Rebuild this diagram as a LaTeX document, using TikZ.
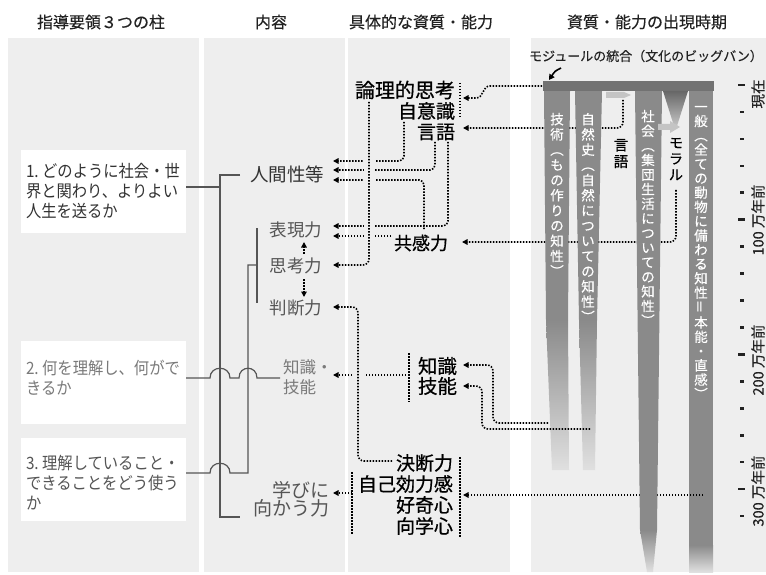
\documentclass[tikz,border=0pt]{standalone}
\usepackage{fontspec}
\setmainfont{Noto Sans CJK JP}
\newfontfamily\cnd{Noto Sans CJK JP}[FakeStretch=0.9]
\newfontfamily\jb{Noto Sans CJK JP}[FakeBold=0.7]
\newfontfamily\jm{Noto Sans CJK JP}[FakeBold=0.35]
\usetikzlibrary{arrows.meta}
\definecolor{panel}{HTML}{EEEEEE}
\definecolor{band}{HTML}{8A8A8A}
\definecolor{barc}{HTML}{727272}
\definecolor{fadec}{HTML}{E0E0E0}
\definecolor{lightg}{HTML}{C4C4C4}
\definecolor{linec}{HTML}{555555}
\definecolor{hdrc}{HTML}{222222}
\definecolor{tA}{HTML}{333333}
\definecolor{tB}{HTML}{7A7A7A}
\definecolor{tC}{HTML}{555555}
\begin{document}
\begin{tikzpicture}[x=1pt,y=-1pt,
  every node/.style={inner sep=0pt,outer sep=0pt},
  hdr/.style={font=\jm\fontsize{16}{18}\selectfont,text=hdrc},
  boxw/.style={fill=white,anchor=north west,minimum width=165pt,minimum height=83pt},
  btext/.style={font=\cnd\fontsize{17}{20}\selectfont,align=left,anchor=west},
  c2/.style={font=\fontsize{17.5}{20}\selectfont,text=tC},
  c3/.style={font=\jb\fontsize{19}{21}\selectfont,text=black,anchor=east},
  sol/.style={draw=linec,line width=1.2pt},
  dotl/.style={draw=black,line width=1.6pt,dash pattern=on 1.5pt off 1.5pt},
  tip/.style={-{Triangle[length=5.5pt,width=5.5pt]}},
  vt/.style={text=white,align=center,anchor=north,font=\jm\fontsize{13.5}{15.2}\selectfont},
  vk/.style={text=black,align=center,anchor=north,font=\jb\fontsize{14.5}{16.5}\selectfont},
  ax/.style={rotate=90,font=\jm\fontsize{14.5}{16}\selectfont,text=hdrc}
]
\useasboundingbox (0,0) rectangle (766,575);
\fill[white] (0,0) rectangle (766,575);
% panels
\fill[panel] (8,38) rectangle (199,572);
\fill[panel] (204,38) rectangle (345,572);
\fill[panel] (348,38) rectangle (510,572);
\fill[panel] (531,38) rectangle (766,572);
% headers
\node[hdr] (h1) at (101,22) {指導要領３つの柱};
\node[hdr] (h2) at (271,22) {内容};
\node[hdr] (h3) at (421,22) {具体的な資質・能力};
\node[hdr] (h4) at (647,22) {資質・能力の出現時期};
% column 1 boxes
\node[boxw] (b1) at (21,150) {};
\node[boxw] (b2) at (21,341) {};
\node[boxw] (b3) at (21,438) {};
\node[btext,text=tA] (b1t) at (26,191) {1.\ どのように社会・世\\界と関わり、よりよい\\人生を送るか};
\node[btext,text=tB] (b2t) at (26,378) {2.\ 何を理解し、何がで\\きるか};
\node[btext,text=tC] (b3t) at (26,483) {3.\ 理解していること・\\できることをどう使う\\か};
% column 2
\node[c2,text=tA,font=\fontsize{18.5}{20}\selectfont,anchor=west] (ning) at (250,174) {人間性等};
\node[c2] (hyo) at (296,230) {表現力};
\node[c2] (shi) at (296,266) {思考力};
\node[c2] (han) at (296,308) {判断力};
\node[c2,text=tB,font=\fontsize{16.5}{20}\selectfont,align=left,anchor=west] (chigi) at (283,377) {知識・\\技能};
\node[c2,font=\fontsize{19}{18}\selectfont,align=right,anchor=east] (mana) at (329,499) {学びに\\向かう力};
% column 3
\node[c3,font=\jb\fontsize{20}{21}\selectfont] (ronri) at (455,90) {論理的思考};
\node[c3] (jii) at (455,111) {自意識};
\node[c3] (gen3) at (455,132) {言語};
\node[c3,font=\jb\fontsize{18}{20}\selectfont] (kyo) at (448,243) {共感力};
\node[c3,font=\jb\fontsize{19.5}{20}\selectfont] (chi3) at (457,366) {知識};
\node[c3,font=\jb\fontsize{19.5}{20}\selectfont] (gi3) at (457,386) {技能};
\node[c3] (ket) at (453,463) {決断力};
\node[c3] (jiko) at (453,484) {自己効力感};
\node[c3] (koki) at (453,505) {好奇心};
\node[c3] (kogaku) at (453,526) {向学心};
% solid connectors
\draw[sol] (b1.east |- 0,187) -- (220,187);
\draw[sol] (ning.west) ++(-10,1) -- (220,175) -- (220,517) -- (240,517);
\draw[sol] (257,228) -- (257,303);
\draw[sol] (257,265) -- (248,265) -- (248,473) -- (230,473) .. controls (230,460) and (210,460) .. (210,473) -- (b3.east |- 0,473);
\draw[sol] (b2.east |- 0,378) -- (210,378) .. controls (210,365) and (230,365) .. (230,378) -- (239,378) .. controls (239,365) and (257,365) .. (257,378) -- (280,378);
% column 2 internal arrows
\draw[dotl,tip] (shi.north -| 304,0) ++(0,-4) -- (304,242);
\draw[dotl,tip] (304,279) -- (304,297);
% tip coordinates
\coordinate (tN1) at (333,161);
\coordinate (tN2) at (333,170);
\coordinate (tN3) at (333,180);
\coordinate (tH1) at (333,226);
\coordinate (tH2) at (333,236);
\coordinate (tS) at (333,265);
\coordinate (tJ) at (333,307);
\coordinate (tC) at (333,375);
\coordinate (tM) at (333,493);
% column 3 dotted connectors
\draw[dotl,tip,rounded corners=5pt] (404,122) -- (404,161) -- (tN1);
\draw[dotl,tip,rounded corners=5pt] (435,142) -- (435,170) -- (tN2);
\draw[dotl,tip,rounded corners=5pt] (424,229) -- (424,180) -- (tN3);
\draw[dotl,tip,rounded corners=5pt] (448,142) -- (448,226) -- (tH1);
\draw[dotl,tip] (kyo.west |- 0,236) ++(-3,0) -- (tH2);
\draw[dotl,tip] (409,375) -- (tC);
\draw[dotl,tip] (352,493) -- (tM);
% bridges
\fill[panel] (364,155) rectangle (375,186);
\fill[panel] (364,221) rectangle (375,241);
\fill[panel] (352,370) rectangle (364,380);
\draw[dotl,tip,rounded corners=6pt] (369,102) -- (369,265) -- (tS);
\draw[dotl,tip,rounded corners=6pt] (ket.west) ++(-4,-2) -- (358,461) -- (358,307) -- (tJ);
% brackets
\draw[dotl] (460,83) -- (460,117);
\draw[dotl] (409,353) -- (409,402);
\draw[dotl] (460,457) -- (460,537);
\draw[dotl] (352,472) -- (352,535);
% column 4: lines behind the bands
\coordinate (tR) at (463,98);
\coordinate (tG) at (463,128);
\coordinate (tK) at (462,242);
\coordinate (tCh) at (463,365);
\coordinate (tGi) at (463,386);
\coordinate (tJk) at (463,495);
\draw[dotl,tip] (548,86) -- (490,86) .. controls (482,86) and (484,98) .. (476,98) -- (tR);
\draw[dotl,tip,rounded corners=6pt] (623,100) -- (623,128) -- (tG);
\draw[dotl,tip,rounded corners=6pt] (676,190) -- (676,242) -- (tK);
% general band
\fill[band] (689,91) rectangle (713,545);
\shade[top color=band,bottom color=fadec] (689,545) rectangle (713,572);
\draw[dotl,tip] (703,495) -- (tJk);
% technology band
\fill[band] (544,91) -- (570,91) -- (568,320) -- (546,320) -- cycle;
\shade[top color=band,bottom color=fadec] (546,320) -- (568,320) -- (569,470) -- (552,470) -- cycle;
% natural history band
\fill[band] (575,91) -- (602,91) -- (597,320) -- (579,320) -- cycle;
\shade[top color=band,bottom color=fadec] (579,320) -- (597,320) -- (595,470) -- (583,470) -- cycle;
% social band
\fill[band] (635,91) -- (662,91) -- (657,530) -- (640,530) -- cycle;
\shade[top color=band,bottom color=fadec] (640,530) -- (657,530) -- (653,572) -- (647,572) -- cycle;
% top bar
\fill[barc] (543,81) rectangle (714,91);
% moral triangle
\shade[top color=barc!90!black,bottom color=lightg] (663,91) -- (688,91) -- (677,126) -- (674,126) -- cycle;
\fill[lightg] (658,124) -- (670,124) -- (670,121) -- (680,127) -- (670,133) -- (670,130) -- (658,130) -- cycle;
\fill[lightg] (606,92) -- (624,92) -- (631,95) -- (624,98) -- (606,98) -- cycle;
% lines drawn over the fading bands
\draw[dotl,tip,rounded corners=6pt] (548,423) -- (493,423) -- (493,365) -- (tCh);
\draw[dotl,tip,rounded corners=6pt] (590,429) -- (482,429) -- (482,386) -- (tGi);
% module label
\node[font=\jm\fontsize{13}{15}\selectfont,text=hdrc] (mod) at (646,56) {モジュールの統合（文化のビッグバン）};
\draw[line width=1.6pt,-{Triangle[length=5.5pt,width=6pt]}] (561,68) .. controls (555,71) .. (549,80);
% band texts
\node[vt] (v1) at (557,113) {技\\術\\︵\\も\\の\\作\\り\\の\\知\\性\\︶};
\node[vt] (v2) at (588,113) {自\\然\\史\\︵\\自\\然\\に\\つ\\い\\て\\の\\知\\性\\︶};
\node[vt,font=\jm\fontsize{13.5}{14.6}\selectfont] (v3) at (648,110) {社\\会\\︵\\集\\団\\生\\活\\に\\つ\\い\\て\\の\\知\\性\\︶};
\node[vt,font=\jm\fontsize{13.5}{14.3}\selectfont] (v4) at (701,106) {一\\般\\︵\\全\\て\\の\\動\\物\\に\\備\\わ\\る\\知\\性\\\rotatebox{90}{＝}\\本\\能\\・\\直\\感\\︶};
\node[vk] (vg) at (621,139) {言\\語};
\node[vk,font=\jb\fontsize{14}{16}\selectfont] (vm) at (676,138) {モ\\ラ\\ル};
% time axis
\foreach \k in {0,...,16}{
  \pgfmathsetmacro\yy{85+26.94*\k}
  \fill[hdrc] (740,\yy-1.3) rectangle (743.5,\yy+1.3);
}
\foreach \k in {0,5,10,15}{
  \pgfmathsetmacro\yy{85+26.94*\k}
  \fill[hdrc] (737.5,\yy-1.3) rectangle (745,\yy+1.3);
}
\node[ax] (a0) at (758,94) {現在};
\node[ax] (a1) at (758,220) {100 万年前};
\node[ax] (a2) at (758,360) {200 万年前};
\node[ax] (a3) at (758,491) {300 万年前};
\end{tikzpicture}
\end{document}
